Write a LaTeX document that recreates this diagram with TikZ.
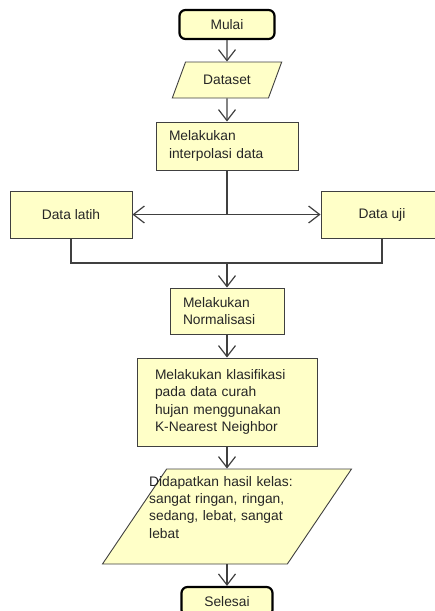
\documentclass[tikz,border=0pt]{standalone}
\usepackage{fontspec}
\setmainfont{Liberation Sans}
\usetikzlibrary{shapes,arrows.meta,positioning,calc}
\definecolor{kuning}{RGB}{255,255,200}
\definecolor{garis}{RGB}{64,64,64}

\begin{document}
\begin{tikzpicture}[x=1pt, y=-1pt,
    every node/.style={font=\fontsize{13.8}{17.3}\selectfont, text=black!85},
    proses/.style={draw=garis, fill=kuning, line width=0.9pt, inner xsep=13pt, align=left},
    terminal/.style={draw=black, fill=kuning, line width=2.2pt, rounded corners=6pt, minimum height=29pt},
    io/.style={draw=garis, fill=kuning, line width=0.9pt, trapezium, trapezium left angle=62, trapezium right angle=118, trapezium stretches=true},
    hubung/.style={draw=garis, line width=1.2pt},
    panah/.style={hubung, -{Straight Barb[length=11pt, width=17pt]}}]
    \useasboundingbox (0,0) rectangle (435,611);

    \node[terminal, minimum width=95pt] (mulai) at (227,24.5) {Mulai};
    \node[io, minimum width=110pt, minimum height=36pt] (dataset) at (227,80) {Dataset};
    \node[proses, text width=116pt, minimum height=48pt] (interpolasi) at (227,146) {Melakukan\\interpolasi data};
    \node[proses, align=center, minimum width=122pt, minimum height=47pt] (latih) at (71,214.5) {Data latih};
    \node[proses, align=center, minimum width=122pt, minimum height=47pt] (uji) at (382,214.5) {Data uji};
    \node[proses, text width=88pt, minimum height=46pt] (normalisasi) at (227,311) {Melakukan\\Normalisasi};
    \node[proses, inner xsep=18pt, text width=144pt, minimum height=88pt] (klasifikasi) at (227,402) {Melakukan klasifikasi\\pada data curah\\hujan menggunakan\\K-Nearest Neighbor};
    \node[io, minimum width=249pt, minimum height=95pt] (hasil) at (227,516.5) {};
    \node[anchor=north west, inner sep=0pt, text width=170pt, align=left] (hasilteks) at (149,476) {Didapatkan hasil kelas:\\sangat ringan, ringan,\\sedang, lebat, sangat\\lebat};
    \node[terminal, minimum width=91pt] (selesai) at (227,601.5) {Selesai};

    \coordinate (cabang) at (interpolasi.south |- latih.east);
    \coordinate (gabung) at (227,263);

    \draw[panah] (mulai) -- (dataset);
    \draw[panah] (dataset) -- (interpolasi);
    \draw[hubung] (interpolasi) -- (cabang);
    \draw[panah] (cabang) -- (latih);
    \draw[panah] (cabang) -- (uji);
    \draw[hubung] (latih.south) |- (gabung) -| (uji.south);
    \draw[panah] (gabung) -- (normalisasi);
    \draw[panah] (normalisasi) -- (klasifikasi);
    \draw[panah] (klasifikasi) -- (hasil);
    \draw[panah] (hasil) -- (selesai);
\end{tikzpicture}
\end{document}
